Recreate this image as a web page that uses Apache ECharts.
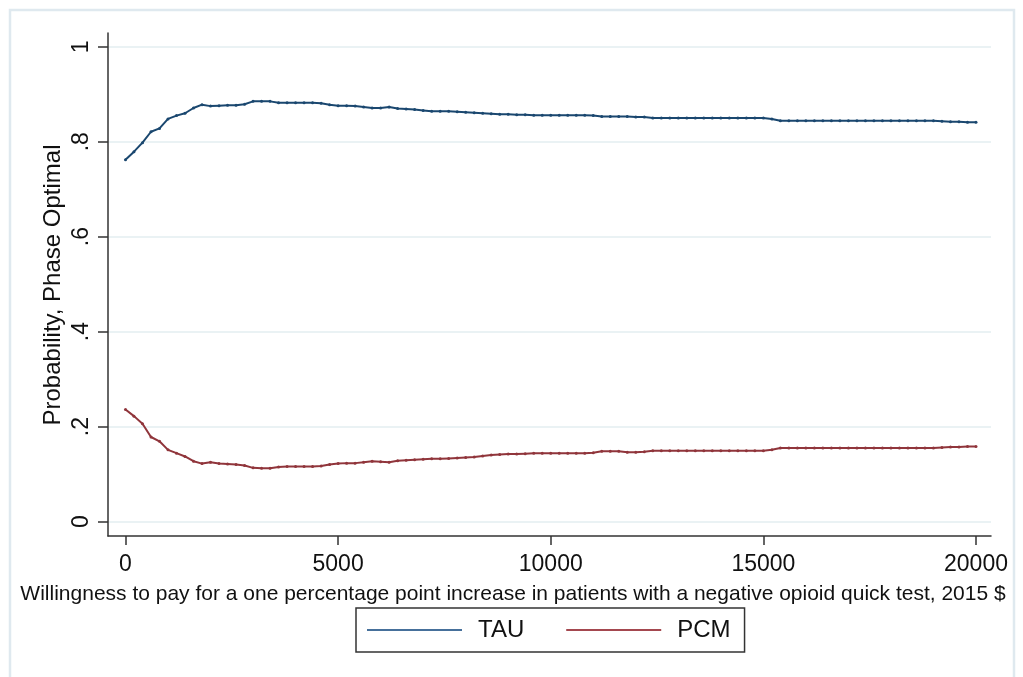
<!DOCTYPE html>
<html>
<head>
<meta charset="utf-8">
<script src="https://cdn.jsdelivr.net/npm/echarts@6/dist/echarts.min.js"></script>
<style>html,body{margin:0;padding:0;background:#fff}#c{width:1023px;height:677px}</style>
</head>
<body>
<div id="c"></div>
<script>
// Willingness to pay (2015 $)
const wtp = [0,200,400,600,800,1000,1200,1400,1600,1800,2000,2200,2400,2600,2800,3000,3200,3400,3600,3800,
  4000,4200,4400,4600,4800,5000,5200,5400,5600,5800,6000,6200,6400,6600,6800,7000,7200,7400,7600,7800,
  8000,8200,8400,8600,8800,9000,9200,9400,9600,9800,10000,10200,10400,10600,10800,11000,11200,11400,11600,11800,
  12000,12200,12400,12600,12800,13000,13200,13400,13600,13800,14000,14200,14400,14600,14800,15000,15200,15400,15600,15800,
  16000,16200,16400,16600,16800,17000,17200,17400,17600,17800,18000,18200,18400,18600,18800,19000,19200,19400,19600,19800,20000];
const tau = [.762,.779,.798,.821,.828,.848,.855,.860,.871,.878,.875,.876,.877,.877,.879,.885,.885,.885,.882,.882,
  .882,.882,.882,.881,.878,.876,.876,.875,.873,.871,.871,.873,.870,.869,.868,.866,.864,.864,.864,.863,
  .862,.861,.860,.859,.858,.858,.857,.857,.856,.856,.856,.856,.856,.856,.856,.855,.853,.853,.853,.853,
  .852,.852,.850,.850,.850,.850,.850,.850,.850,.850,.850,.850,.850,.850,.850,.850,.848,.844,.844,.844,
  .844,.844,.844,.844,.844,.844,.844,.844,.844,.844,.844,.844,.844,.844,.844,.844,.843,.842,.842,.841,.841];
const pcm = [.236,.222,.206,.178,.169,.151,.144,.137,.127,.122,.125,.122,.121,.120,.118,.113,.112,.112,.115,.116,
  .116,.116,.116,.117,.120,.122,.123,.123,.125,.127,.126,.125,.128,.129,.130,.131,.132,.132,.133,.134,
  .135,.136,.138,.140,.141,.142,.142,.143,.144,.144,.144,.144,.144,.144,.144,.145,.148,.148,.148,.146,
  .146,.147,.149,.149,.149,.149,.149,.149,.149,.149,.149,.149,.149,.149,.149,.149,.151,.155,.155,.155,
  .155,.155,.155,.155,.155,.155,.155,.155,.155,.155,.155,.155,.155,.155,.155,.155,.156,.157,.157,.158,.158];
const xTicks = [0,5000,10000,15000,20000];
const yTicks = [0,0.2,0.4,0.6,0.8,1];
const yTickLabels = ['0','.2','.4','.6','.8','1'];
const seriesNames = ['TAU','PCM'];

const FONT = '"Liberation Sans", Arial, sans-serif';
const chart = echarts.init(document.getElementById('c'), null, {renderer:'canvas'});
const option = {
  animation:false,
  backgroundColor:'#ffffff',
  grid:[
    {left:108,right:32,top:33,bottom:141},
    {left:108,right:32,top:47,bottom:155.5}
  ],
  xAxis:[
    {type:'value',gridIndex:0,min:-411,max:20353,
     axisLine:{show:true,onZero:false,lineStyle:{color:'#333',width:1.5}},
     axisTick:{show:true,customValues:xTicks,length:9,lineStyle:{color:'#333',width:1.5}},
     axisLabel:{customValues:xTicks,margin:17,fontSize:23,color:'#111',fontFamily:FONT,formatter:v=>String(v)},
     splitLine:{show:false}},
    {type:'value',gridIndex:1,min:0,max:20000,show:false}
  ],
  yAxis:[
    {type:'value',gridIndex:0,min:-0.0305,max:1.029,
     axisLine:{show:true,onZero:false,lineStyle:{color:'#333',width:1.5}},
     axisTick:{show:true,customValues:yTicks,length:10,lineStyle:{color:'#333',width:1.5}},
     axisLabel:{customValues:yTicks,rotate:90,margin:15,fontSize:23,color:'#111',fontFamily:FONT,
       formatter:v=>yTickLabels[Math.round(v*5)]},
     splitLine:{show:false}},
    {type:'value',gridIndex:1,min:0,max:1,interval:0.2,
     axisLine:{show:false},axisTick:{show:false},axisLabel:{show:false},
     splitLine:{show:true,lineStyle:{color:'#e3eef1',width:1.5}}}
  ],
  legend:{
    data:[{name:seriesNames[0],itemStyle:{color:'#46709b'}},{name:seriesNames[1],itemStyle:{color:'#a4484f'}}],
    icon:'rect',itemWidth:95,itemHeight:2,left:356,top:608,
    padding:[10,14,10,11],itemGap:42,
    borderColor:'#333',borderWidth:1.5,
    textStyle:{fontSize:24,color:'#111',fontFamily:FONT,padding:[0,0,0,11]}
  },
  graphic:[
    {type:'rect',shape:{x:10,y:10,width:1004,height:700},style:{fill:'none',stroke:'#dfe9ef',lineWidth:2.5},silent:true},
    {type:'text',x:513,y:594,style:{text:'Willingness to pay for a one percentage point increase in patients with a negative opioid quick test, 2015 $',
      fontSize:21,fontFamily:FONT,fill:'#111',textAlign:'center',textVerticalAlign:'middle'}},
    {type:'text',x:53,y:285,rotation:Math.PI/2,style:{text:'Probability, Phase Optimal',
      fontSize:24,fontFamily:FONT,fill:'#111',textAlign:'center',textVerticalAlign:'middle'}}
  ],
  series:[
    {name:seriesNames[0],type:'line',xAxisIndex:0,yAxisIndex:0,data:wtp.map((x,i)=>[x,tau[i]]),
     showSymbol:true,symbol:'circle',symbolSize:3,color:'#1a476f',
     lineStyle:{color:'#1a476f',width:2},itemStyle:{color:'#1a476f'}},
    {name:seriesNames[1],type:'line',xAxisIndex:0,yAxisIndex:0,data:wtp.map((x,i)=>[x,pcm[i]]),
     showSymbol:true,symbol:'circle',symbolSize:3,color:'#90353b',
     lineStyle:{color:'#90353b',width:2},itemStyle:{color:'#90353b'}}
  ]
};
chart.setOption(option);
</script>
</body>
</html>
